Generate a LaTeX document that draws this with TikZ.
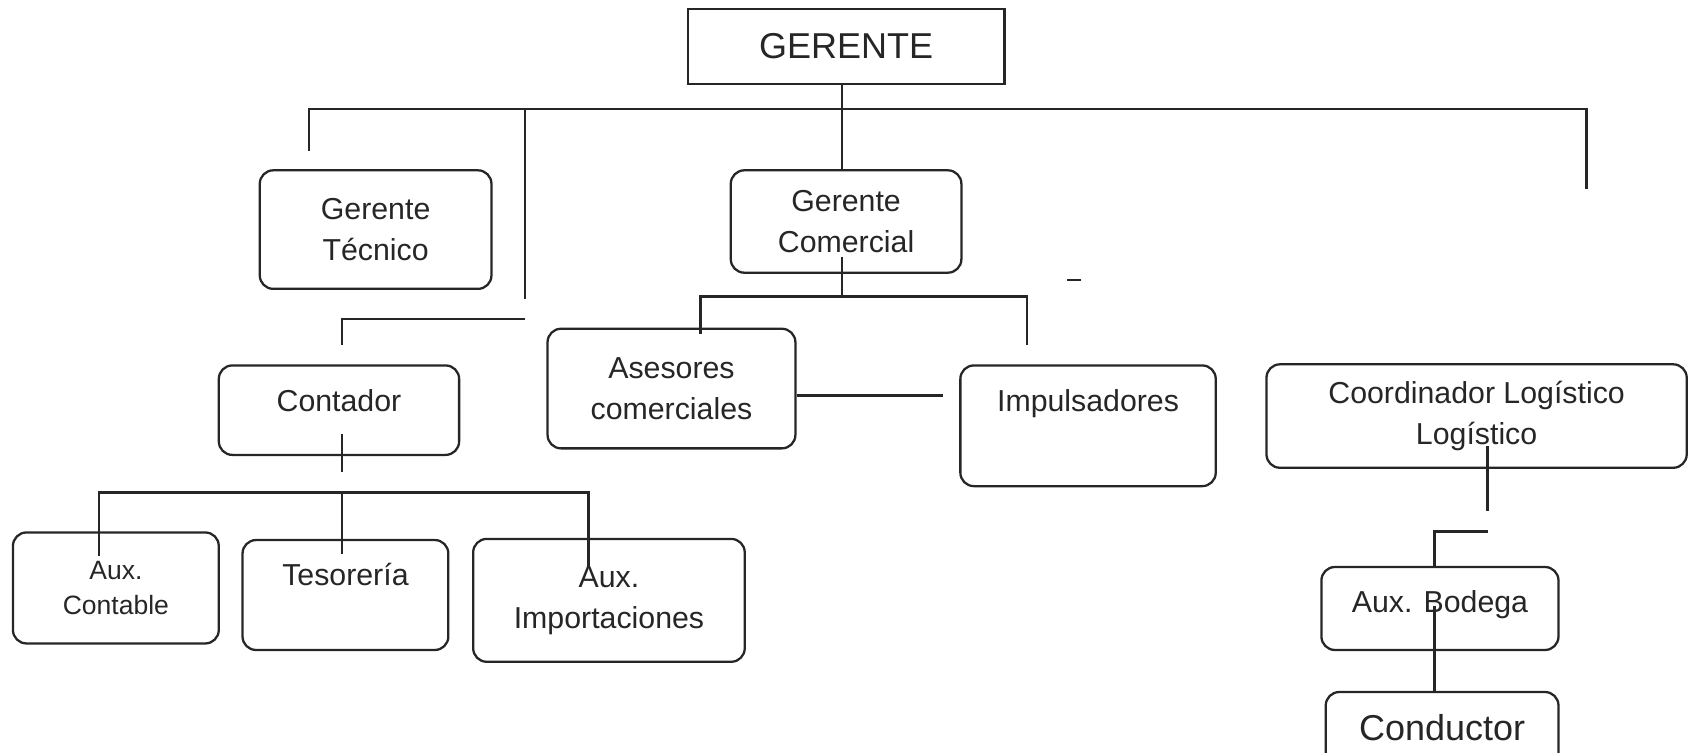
\documentclass[tikz,border=0pt]{standalone}
\usepackage{fontspec}
\setmainfont{Liberation Sans}
\usepackage[dvipsnames]{xcolor}

\begin{document}
\begin{tikzpicture}[x=0.02cm,y=-0.02cm,line width=1.2pt,color=black!85,base node/.style={draw,rounded corners=0.25cm,font=\fontsize{16}{21.6}\selectfont},box node/.style={base node,align=center},top node/.style={base node,inner ysep=0pt,anchor=north}]

            \useasboundingbox (0,0) rectangle (1568,698);
            \clip (0,0) rectangle (1568,698);

            \node[draw,font=\fontsize{19}{23}\selectfont,minimum width=5.88cm,minimum height=1.4cm] (gerente) at (785,43) {GERENTE};
            \node[box node,minimum width=4.3cm,minimum height=2.2cm] (tecnico) at (348.5,213) {Gerente\\Técnico};
            \node[box node,minimum width=4.28cm,minimum height=1.9cm] (comercial) at (785,205.5) {Gerente\\Comercial};
            \node[top node,minimum width=4.46cm,text height=0.86cm,text depth=0.8cm] (contador) at (314.5,338) {Contador};
            \node[box node,minimum width=4.6cm,minimum height=2.22cm] (asesores) at (623,360.5) {Asesores\\comerciales};
            \node[top node,minimum width=4.74cm,text height=0.86cm,text depth=1.38cm] (impulsadores) at (1009.5,338) {Impulsadores};
            \node[box node,minimum width=7.8cm,minimum height=1.92cm] (coordinador) at (1370,386) {Coordinador Logístico\\Logístico};
            \node[box node,minimum width=3.82cm,minimum height=2.06cm,font=\fontsize{14}{18.2}\selectfont] (auxcontable) at (107.5,545.5) {Aux.\\Contable};
            \node[top node,minimum width=3.82cm,text height=0.84cm,text depth=1.2cm] (tesoreria) at (320.5,500) {Tesorería};
            \node[box node,minimum width=5.04cm,minimum height=2.28cm] (auximport) at (565,557) {Aux.\\Importaciones};
            \node[top node,minimum width=4.4cm,text height=0.84cm,text depth=0.7cm] (bodega) at (1336,525) {Aux. Bodega};
            \node[top node,minimum width=4.32cm,text height=0.9cm,text depth=1.0cm,font=\fontsize{19}{23}\selectfont] (conductor) at (1338,641) {Conductor};

            % top level
            \coordinate (bus) at (781,101);
            \coordinate (ltip) at (287,140);
            \coordinate (rtip) at (1472,175);
            \coordinate (ctip) at (487,277);
            \draw (gerente.south -| bus) -- (bus |- comercial.north);
            \draw (ltip) |- (bus) -| (rtip);
            \draw (ctip |- bus) -- (ctip);

            % contador
            \coordinate (cbend) at (487,296);
            \coordinate (ctop) at (317,320);
            \draw (cbend) -| (ctop);

            % comercial
            \coordinate (kstart) at (781,238);
            \coordinate (kbus) at (781,275);
            \coordinate (atip) at (650,310);
            \coordinate (itip) at (953,320);
            \coordinate (ptip) at (875,367);
            \draw (kstart) -- (kbus);
            \draw (atip) |- (kbus) -| (itip);
            \draw (990,260) -- (1003,260);
            \draw (asesores.east |- ptip) -- (ptip);

            % auxiliares
            \coordinate (ostart) at (317,403);
            \coordinate (oend) at (317,438);
            \coordinate (obus) at (317,457);
            \coordinate (x1) at (92,516);
            \coordinate (x2) at (317,514);
            \coordinate (x3) at (546,527);
            \draw (ostart) -- (oend);
            \draw (x1) |- (obus) -| (x3);
            \draw (obus) -- (x2);

            % logistica
            \coordinate (lstart) at (1380,414);
            \coordinate (lend) at (1380,474);
            \coordinate (lbend) at (1381,493);
            \coordinate (btop) at (1331,525);
            \coordinate (bmid) at (1331,562);
            \draw (lstart) -- (lend);
            \draw (lbend) -| (btop);
            \draw (bmid) -- (bmid |- conductor.north);
        \end{tikzpicture}
\end{document}
